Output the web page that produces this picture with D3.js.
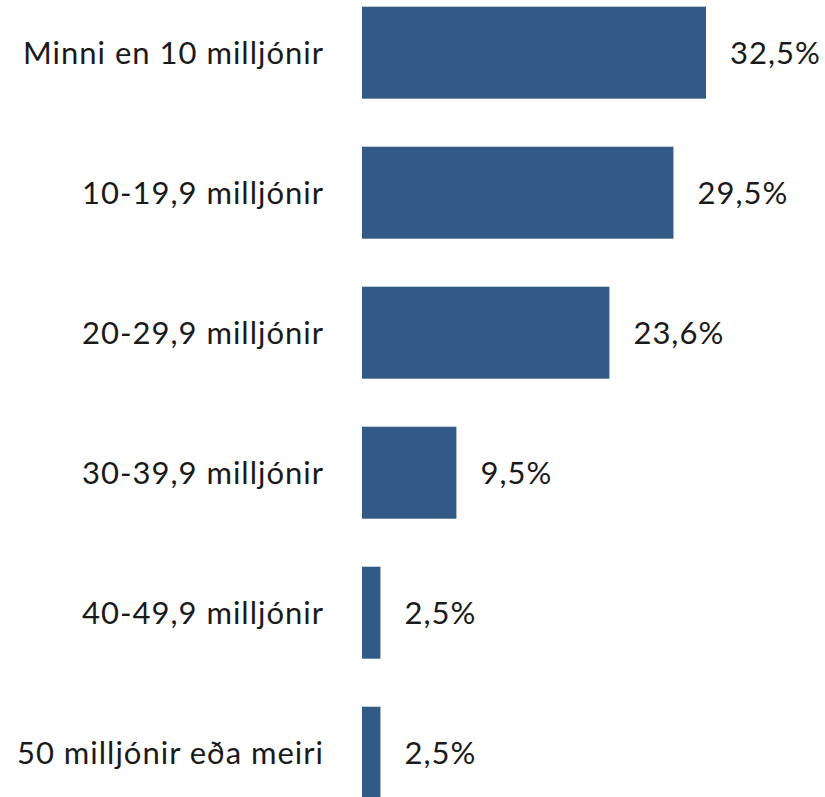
<!DOCTYPE html>
<html><head><meta charset="utf-8">
<script src="https://cdn.jsdelivr.net/npm/d3@7"></script>
<style>body{margin:0;background:#fff;} svg{display:block;}</style>
</head><body>
<svg id="c" width="825" height="797"></svg>
<script>
const categories = ["Minni en 10 milljónir","10-19,9 milljónir","20-29,9 milljónir","30-39,9 milljónir","40-49,9 milljónir","50 milljónir eða meiri"];
const values = [32.5, 29.5, 23.6, 9.5, 2.5, 2.5];
const valueLabels = ["32,5%","29,5%","23,6%","9,5%","2,5%","2,5%"];

const svg = d3.select("#c");
const font = "Lato, 'Open Sans', sans-serif";
const x = d3.scaleLinear().domain([0.8, 32.5]).range([362, 706]);
const y = d3.scaleBand().domain(categories).range([-17.3, 822.7]).paddingInner(0.343).paddingOuter(0.1714);

svg.selectAll("rect.bar").data(values).enter().append("rect")
  .attr("class","bar")
  .attr("x", x(0.8))
  .attr("y", (d,i)=>y(categories[i]))
  .attr("width", d=>x(d)-x(0.8))
  .attr("height", y.bandwidth())
  .attr("fill", "#335a86");

svg.selectAll("text.cat").data(categories).enter().append("text")
  .attr("class","cat")
  .attr("x", 324)
  .attr("y", d=>y(d)+y.bandwidth()/2)
  .attr("dy","0.36em")
  .attr("text-anchor","end")
  .attr("font-family", font)
  .attr("font-size", 31)
  .attr("letter-spacing", "1px")
  .attr("fill","#1a1a1a")
  .text(d=>d);

svg.selectAll("text.val").data(values).enter().append("text")
  .attr("class","val")
  .attr("x", d=>x(d)+24)
  .attr("y", (d,i)=>y(categories[i])+y.bandwidth()/2)
  .attr("dy","0.36em")
  .attr("font-family", font)
  .attr("font-size", 31)
  .attr("letter-spacing", "1px")
  .attr("fill","#1a1a1a")
  .text((d,i)=>valueLabels[i]);
</script>
</body></html>
